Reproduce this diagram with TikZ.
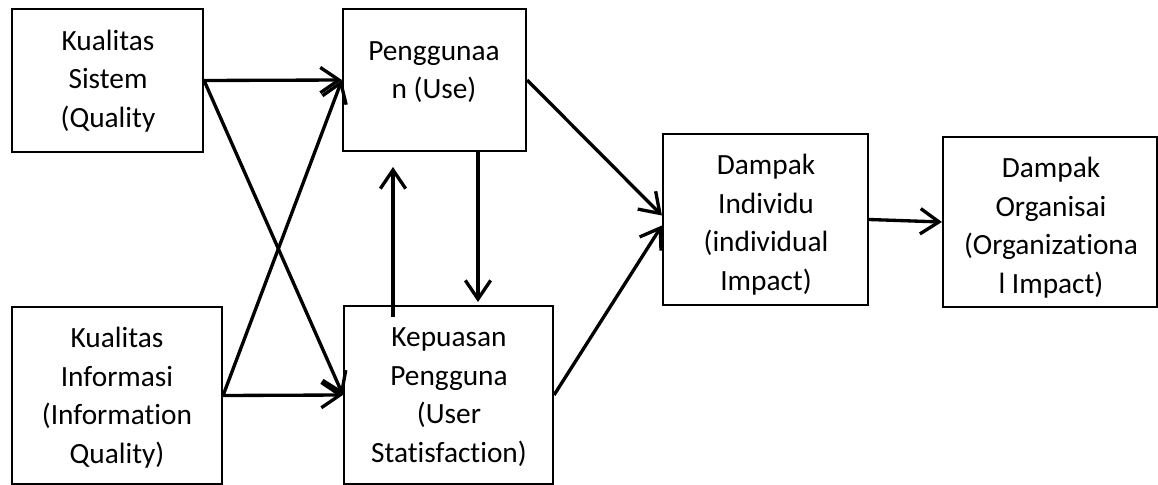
\documentclass[tikz,border=0pt]{standalone}
\usepackage{fontspec}
\setmainfont{Carlito}[RawFeature={-liga;-clig;-dlig}]
\usetikzlibrary{arrows.meta,fit,calc}
\begin{document}
\begin{tikzpicture}[x=0.75pt,y=-0.75pt,
  box/.style={draw=black, line width=1.6pt, inner sep=0pt, rectangle},
  lbl/.style={align=center, inner sep=0pt, anchor=north, font=\fontsize{22}{29}\selectfont},
  arr/.style={line width=2.5pt, -{Straight Barb[length=14pt,width=19pt,line width=2.5pt]}}]
\useasboundingbox (0,0) rectangle (1158,485);
% boxes
\node[box, fit={(12,9) (203,152)}] (A) {};
\node[box, fit={(12,307) (222,484)}] (B) {};
\node[box, fit={(343,9) (526,151)}] (C) {};
\node[box, fit={(344,306) (553,484)}] (D) {};
\node[box, fit={(663,134) (868,305)}] (E) {};
\node[box, fit={(943,137) (1157,307)}] (F) {};
% labels
\node[lbl] (tA) at (108,50-27) {\strut Kualitas\\Sistem\\(Quality};
\node[lbl] (tB) at (117,347-27) {\strut Kualitas\\Informasi\\(Information\\Quality)};
\node[lbl] (tC) at (434,60-27) {\strut Penggunaa\\n (Use)};
\node[lbl] (tD) at (449,346-27) {\strut Kepuasan\\Pengguna\\(User\\Statisfaction)};
\node[lbl] (tE) at (766,174-27) {\strut Dampak\\Individu\\(individual\\Impact)};
\node[lbl] (tF) at (1051,177-27) {\strut Dampak\\Organisai\\(Organizationa\\l Impact)};
% helper coordinates
\coordinate (cd1) at (478,0 |- C.south);
\coordinate (cd2) at (478,302);
\coordinate (dc1) at (393,317);
\coordinate (dc2) at (393,167);
\coordinate (e1) at ($(E.west)+(0,-4)$);
\coordinate (e2) at ($(E.west)+(0,6)$);
% connectors
\draw[arr] (A.east) -- (C.west);
\draw[arr] (A.east) -- (D.west);
\draw[arr] (B.east) -- (C.west);
\draw[arr] (B.east) -- (D.west);
\draw[arr] (cd1) -- (cd2);
\draw[arr] (dc1) -- (dc2);
\draw[arr] (C.east) -- (e1);
\draw[arr] (D.east) -- (e2);
\draw[arr] (E.east) -- (F.west);
\end{tikzpicture}
\end{document}
